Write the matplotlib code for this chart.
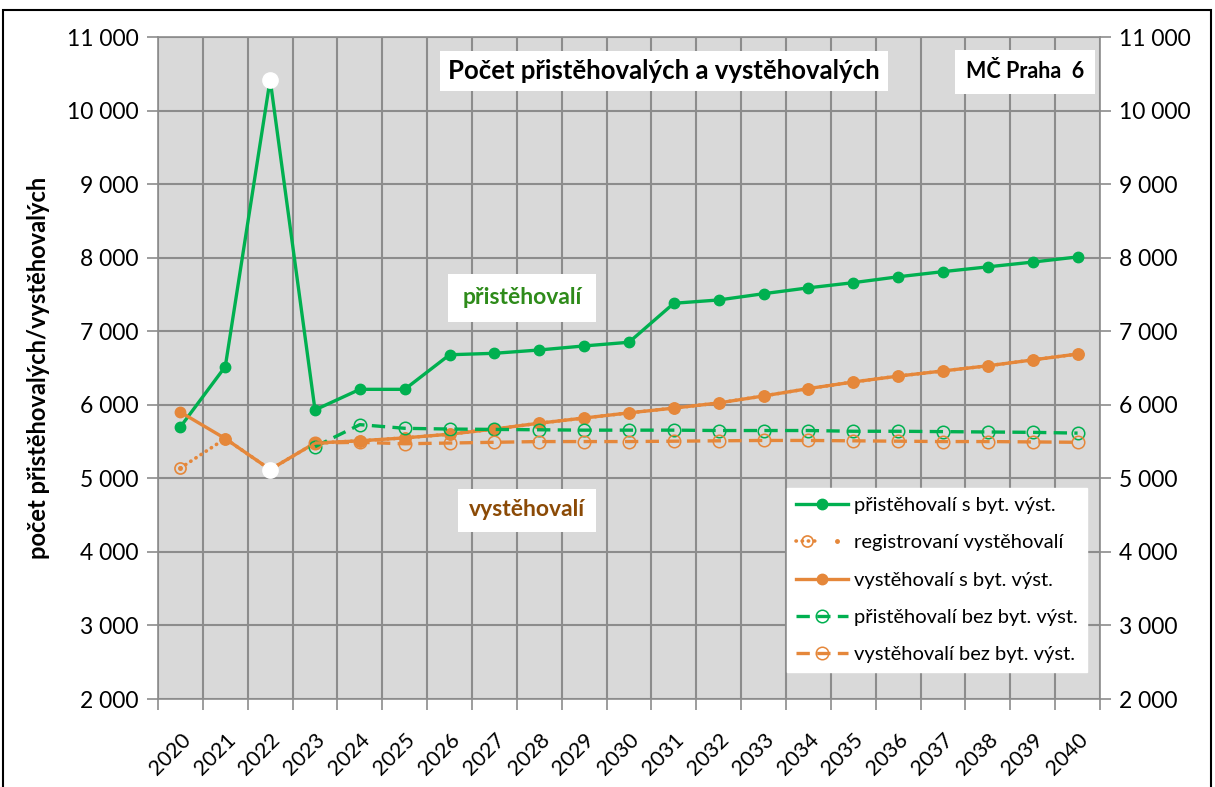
import matplotlib.pyplot as plt
from matplotlib.patches import Rectangle
from matplotlib.ticker import FuncFormatter, MultipleLocator
from matplotlib.legend_handler import HandlerTuple
from matplotlib.transforms import ScaledTranslation

plt.rcParams['font.family'] = ['Lato', 'DejaVu Sans']

# ── data ─────────────────────────────────────
years = list(range(2020, 2041))

prist_s_byt = [5700, 6520, 10420, 5930, 6210, 6210, 6680, 6700, 6745, 6800, 6850,
               7380, 7425, 7510, 7590, 7660, 7740, 7810, 7875, 7940, 8010]
vyst_s_byt = [5900, 5540, 5120, 5480, 5510, 5550, 5600, 5670, 5750, 5820, 5890,
              5955, 6025, 6120, 6220, 6310, 6390, 6460, 6530, 6610, 6690]
reg_vyst = [5140, 5540, 5120, 5480, 5510, 5550, 5600, 5670, 5750, 5820, 5890,
            5955, 6025, 6120, 6220, 6310, 6390, 6460, 6530, 6610, 6690]
# scenarios "bez byt. výst." start in 2023
bez_years_idx = list(range(3, 21))
prist_bez = [5430, 5730, 5680, 5670, 5665, 5660, 5655, 5655, 5655, 5650,
             5650, 5650, 5640, 5640, 5635, 5630, 5625, 5615]
vyst_bez = [5480, 5490, 5470, 5480, 5490, 5500, 5500, 5500, 5505, 5510,
            5515, 5515, 5510, 5505, 5500, 5500, 5495, 5490]
highlight_idx = 2  # 2022 drawn with white markers

GREEN = '#00B050'
ORANGE = '#E5873A'

fig = plt.figure(figsize=(12.15, 7.87), dpi=100)
ax = fig.add_axes([158 / 1215, 1 - 699 / 787, 942 / 1215, 662 / 787])
ax.set_facecolor('#D9D9D9')

x = list(range(len(years)))

l1, = ax.plot(x, prist_s_byt, '-o', color=GREEN, lw=2.4, ms=7.5, zorder=4)
l2, = ax.plot(x, reg_vyst, color=ORANGE, lw=2.6, linestyle=(0, (0.1, 1.6)),
              dash_capstyle='round', marker='o', ms=8, mfc='none', mew=1.2, zorder=3)
l2b, = ax.plot(x, reg_vyst, 'o', color=ORANGE, ms=2.5, zorder=3)
l3, = ax.plot(x, vyst_s_byt, '-o', color=ORANGE, lw=2.4, ms=7.5, zorder=4)
l4, = ax.plot(bez_years_idx, prist_bez, color=GREEN, lw=2.4, linestyle=(0, (4, 2.2)),
              marker='o', ms=9, mfc='none', mew=1.1, zorder=5)
l5, = ax.plot(bez_years_idx, vyst_bez, color=ORANGE, lw=2.4, linestyle=(0, (4, 2.2)),
              marker='o', ms=9, mfc='none', mew=1.1, zorder=5)

# white highlighted points for 2022
ax.plot([highlight_idx], [prist_s_byt[highlight_idx]], 'o', color='white', ms=11, zorder=6)
ax.plot([highlight_idx], [vyst_s_byt[highlight_idx]], 'o', color='white', ms=11, zorder=6)

ax.set_xlim(-0.5, len(years) - 0.5)
ax.set_ylim(2000, 11000)

fmt = FuncFormatter(lambda v, p: f"{v:,.0f}".replace(",", " "))
ax.yaxis.set_major_locator(MultipleLocator(1000))
ax.yaxis.set_major_formatter(fmt)
ax.set_xticks(x)
ax.set_xticklabels([str(y) for y in years], rotation=45, ha='right',
                   rotation_mode='anchor', fontsize=15.5)
shift = ScaledTranslation(6 / 100, 0, fig.dpi_scale_trans)
for lab in ax.get_xticklabels():
    lab.set_transform(lab.get_transform() + shift)
ax.set_xticks([i - 0.5 for i in range(len(years) + 1)], minor=True)
ax.tick_params(axis='x', which='major', length=0, pad=22)
ax.tick_params(axis='x', which='minor', length=8, color='#8C8C8C', width=1.2)
ax.tick_params(axis='y', length=8, color='#8C8C8C', width=1.2, labelsize=16.5, pad=6)

ax.grid(True, axis='y', which='major', color='#8C8C8C', lw=1.5)
ax.grid(True, axis='x', which='minor', color='#8C8C8C', lw=1.5)
ax.set_axisbelow(True)
for sp in ax.spines.values():
    sp.set_color('#8C8C8C')
    sp.set_linewidth(1.2)

ax2 = ax.twinx()
ax2.set_ylim(2000, 11000)
ax2.yaxis.set_major_locator(MultipleLocator(1000))
ax2.yaxis.set_major_formatter(fmt)
ax2.tick_params(axis='y', length=8, color='#8C8C8C', width=1.2, labelsize=16.5, pad=6)
for sp in ax2.spines.values():
    sp.set_visible(False)

ax.set_ylabel('počet přistěhovalých/vystěhovalých', fontsize=17, fontweight='bold',
              labelpad=12)

fig.text(664 / 1215, 1 - 71 / 787, 'Počet přistěhovalých a vystěhovalých',
         fontsize=18.5, fontweight='bold', ha='center', va='center',
         bbox=dict(facecolor='white', edgecolor='none', pad=6))
fig.text(1025 / 1215, 1 - 72 / 787, 'MČ Praha  6', fontsize=15.5, fontweight='bold',
         ha='center', va='center', bbox=dict(facecolor='white', edgecolor='none', pad=8))
fig.text(522 / 1215, 1 - 298 / 787, 'přistěhovalí', fontsize=16.5, fontweight='bold',
         color='#2E8B1A', ha='center', va='center',
         bbox=dict(facecolor='white', edgecolor='none', pad=10))
fig.text(527 / 1215, 1 - 510 / 787, 'vystěhovalí', fontsize=16.5, fontweight='bold',
         color='#8B4A06', ha='center', va='center',
         bbox=dict(facecolor='white', edgecolor='none', pad=8))

handles = [l1, (l2, l2b), l3, l4, l5]
labels = ['přistěhovalí s byt. výst.', 'registrovaní vystěhovalí',
          'vystěhovalí s byt. výst.', 'přistěhovalí bez byt. výst.',
          'vystěhovalí bez byt. výst.']
leg = ax.legend(handles, labels, loc='upper right', bbox_to_anchor=(0.997, 0.334),
                fontsize=14.5, frameon=True, fancybox=False, framealpha=1,
                edgecolor='white', handlelength=2.6, handletextpad=0.3,
                labelspacing=1.0, borderpad=0.45,
                handler_map={tuple: HandlerTuple(ndivide=None)})
leg.set_zorder(10)

fig.patches.append(Rectangle((3 / 1215, -0.02), 1208 / 1215, 1.02 - 10 / 787,
                             transform=fig.transFigure, fill=False,
                             edgecolor='black', lw=1.5))

fig.savefig('out.png', dpi=100)
